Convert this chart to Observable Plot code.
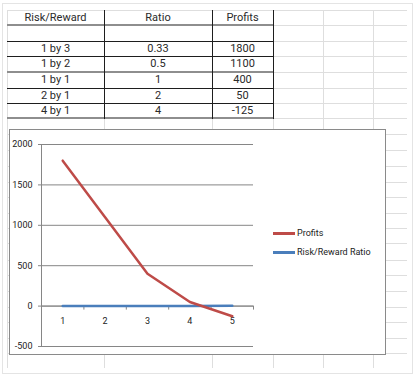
<!DOCTYPE html>
<html>
<head>
<meta charset="utf-8">
<script src="https://cdn.jsdelivr.net/npm/d3@7"></script>
<script src="https://cdn.jsdelivr.net/npm/@observablehq/plot@0.6"></script>
<style>
  html, body { margin: 0; padding: 0; background: #fff; }
  body { width: 417px; height: 378px; position: relative; overflow: hidden; font-family: Roboto, "Open Sans", sans-serif; }
  .abs { position: absolute; }
  .cell { position: absolute; text-align: center; font-size: 11px; color: #2a2a2a; }
</style>
</head>
<body>
<div id="root"></div>
<script>
// ---- data ----
const headers = ["Risk/Reward", "Ratio", "Profits"];
const riskReward = ["1 by 3", "1 by 2", "1 by 1", "2 by 1", "4 by 1"];
const ratioLabels = ["0.33", "0.5", "1", "2", "4"];
const ratio = [0.33, 0.5, 1, 2, 4];
const profits = [1800, 1100, 400, 50, -125];
const categories = [1, 2, 3, 4, 5];
const yTicks = [-500, 0, 500, 1000, 1500, 2000];
const seriesNames = ["Profits", "Risk/Reward Ratio"];
const seriesColors = ["#BE4B48", "#4A7EBB"];

// ---- spreadsheet layout ----
const root = document.getElementById("root");
function box(css) {
  const d = document.createElement("div");
  d.className = "abs";
  Object.assign(d.style, css);
  root.appendChild(d);
  return d;
}
const rowY = [10,25,41,56,72,88,103,118,134,150,166,182,197,213,228,243,260,275,291,307,322,338,353];
const colX = [7,104,212,273,323,373];

// outer frame
box({left: "2px", top: "3px", width: "409px", height: "369px", border: "1px solid #e4e4e4"});
// light sheet gridlines
rowY.forEach(y => box({left: "7px", top: y + "px", width: "400px", height: "1px", background: "#dedede"}));
colX.forEach(x => box({left: x + "px", top: "10px", width: "1px", height: "358px", background: "#dedede"}));

// table borders
const thick = [25, 72, 118], dark = [41, 56, 88, 103];
thick.forEach(y => box({left: "7px", top: (y - 1) + "px", width: "267px", height: "2px", background: "#8e8e8e"}));
dark.forEach(y => box({left: "7px", top: y + "px", width: "267px", height: "1px", background: "#1e1e1e"}));
[104, 212, 273].forEach(x => box({left: x + "px", top: "10px", width: "1px", height: "109px", background: "#1e1e1e"}));

// table text
function cell(text, c, r) {
  const d = document.createElement("div");
  d.className = "cell";
  d.textContent = text;
  Object.assign(d.style, {
    left: colX[c] + "px", width: (colX[c + 1] - colX[c]) + "px",
    top: rowY[r] + "px", height: (rowY[r + 1] - rowY[r]) + "px",
    lineHeight: (rowY[r + 1] - rowY[r]) + "px"
  });
  root.appendChild(d);
}
headers.forEach((h, c) => cell(h, c, 0));
riskReward.forEach((t, i) => {
  cell(t, 0, i + 2);
  cell(ratioLabels[i], 1, i + 2);
  cell(String(profits[i]), 2, i + 2);
});

// chart box
const chartBox = box({left: "9px", top: "129px", width: "375px", height: "224px", border: "1px solid #8a8a8a", background: "#fff"});

const rows = categories.map((c, i) => ({cat: c, ratio: ratio[i], profits: profits[i]}));
const boundaries = [categories[0] - 0.5, ...categories.map(c => c + 0.5)];
const grey = "#868686";

const chart = Plot.plot({
  width: 375, height: 224,
  marginLeft: 31, marginRight: 132, marginTop: 14, marginBottom: 8,
  x: {domain: [categories[0] - 0.5, categories[categories.length - 1] + 0.5], axis: null},
  y: {domain: [yTicks[0], yTicks[yTicks.length - 1]], axis: null},
  style: {fontFamily: "Roboto, sans-serif", fontSize: "9px", color: "#222", background: "#fff", overflow: "visible"},
  marks: [
    Plot.gridY(yTicks, {stroke: grey, strokeOpacity: 1}),
    Plot.axisY(yTicks, {tickSize: 3, tickPadding: 6, stroke: grey, fill: "#222", fontSize: 9, tickFormat: d => String(d)}),
    Plot.ruleX([boundaries[0]], {stroke: grey}),
    Plot.ruleY([0], {stroke: grey}),
    Plot.ruleX(boundaries, {x: d => d, y1: 0, y2: 0, insetBottom: -4, stroke: grey}),
    Plot.text(categories, {x: d => d, y: 0, text: d => String(d), dy: 15, fontSize: 9, fill: "#222"}),
    Plot.lineY(rows, {x: "cat", y: "ratio", stroke: seriesColors[1], strokeWidth: 2.5}),
    Plot.lineY(rows, {x: "cat", y: "profits", stroke: seriesColors[0], strokeWidth: 2.5})
  ]
});
chart.style.position = "absolute";
chart.style.left = "0px";
chart.style.top = "0px";
chartBox.appendChild(chart);

// legend
seriesNames.forEach((name, i) => {
  const top = 97 + i * 19;
  const sw = document.createElement("div");
  Object.assign(sw.style, {position: "absolute", left: "263px", top: (top + 5) + "px", width: "22px", height: "2.5px", background: seriesColors[i]});
  chartBox.appendChild(sw);
  const t = document.createElement("div");
  t.textContent = name;
  Object.assign(t.style, {position: "absolute", left: "287px", top: top + "px", fontSize: "9px", lineHeight: "12px", color: "#222", whiteSpace: "nowrap"});
  chartBox.appendChild(t);
});
</script>
</body>
</html>
